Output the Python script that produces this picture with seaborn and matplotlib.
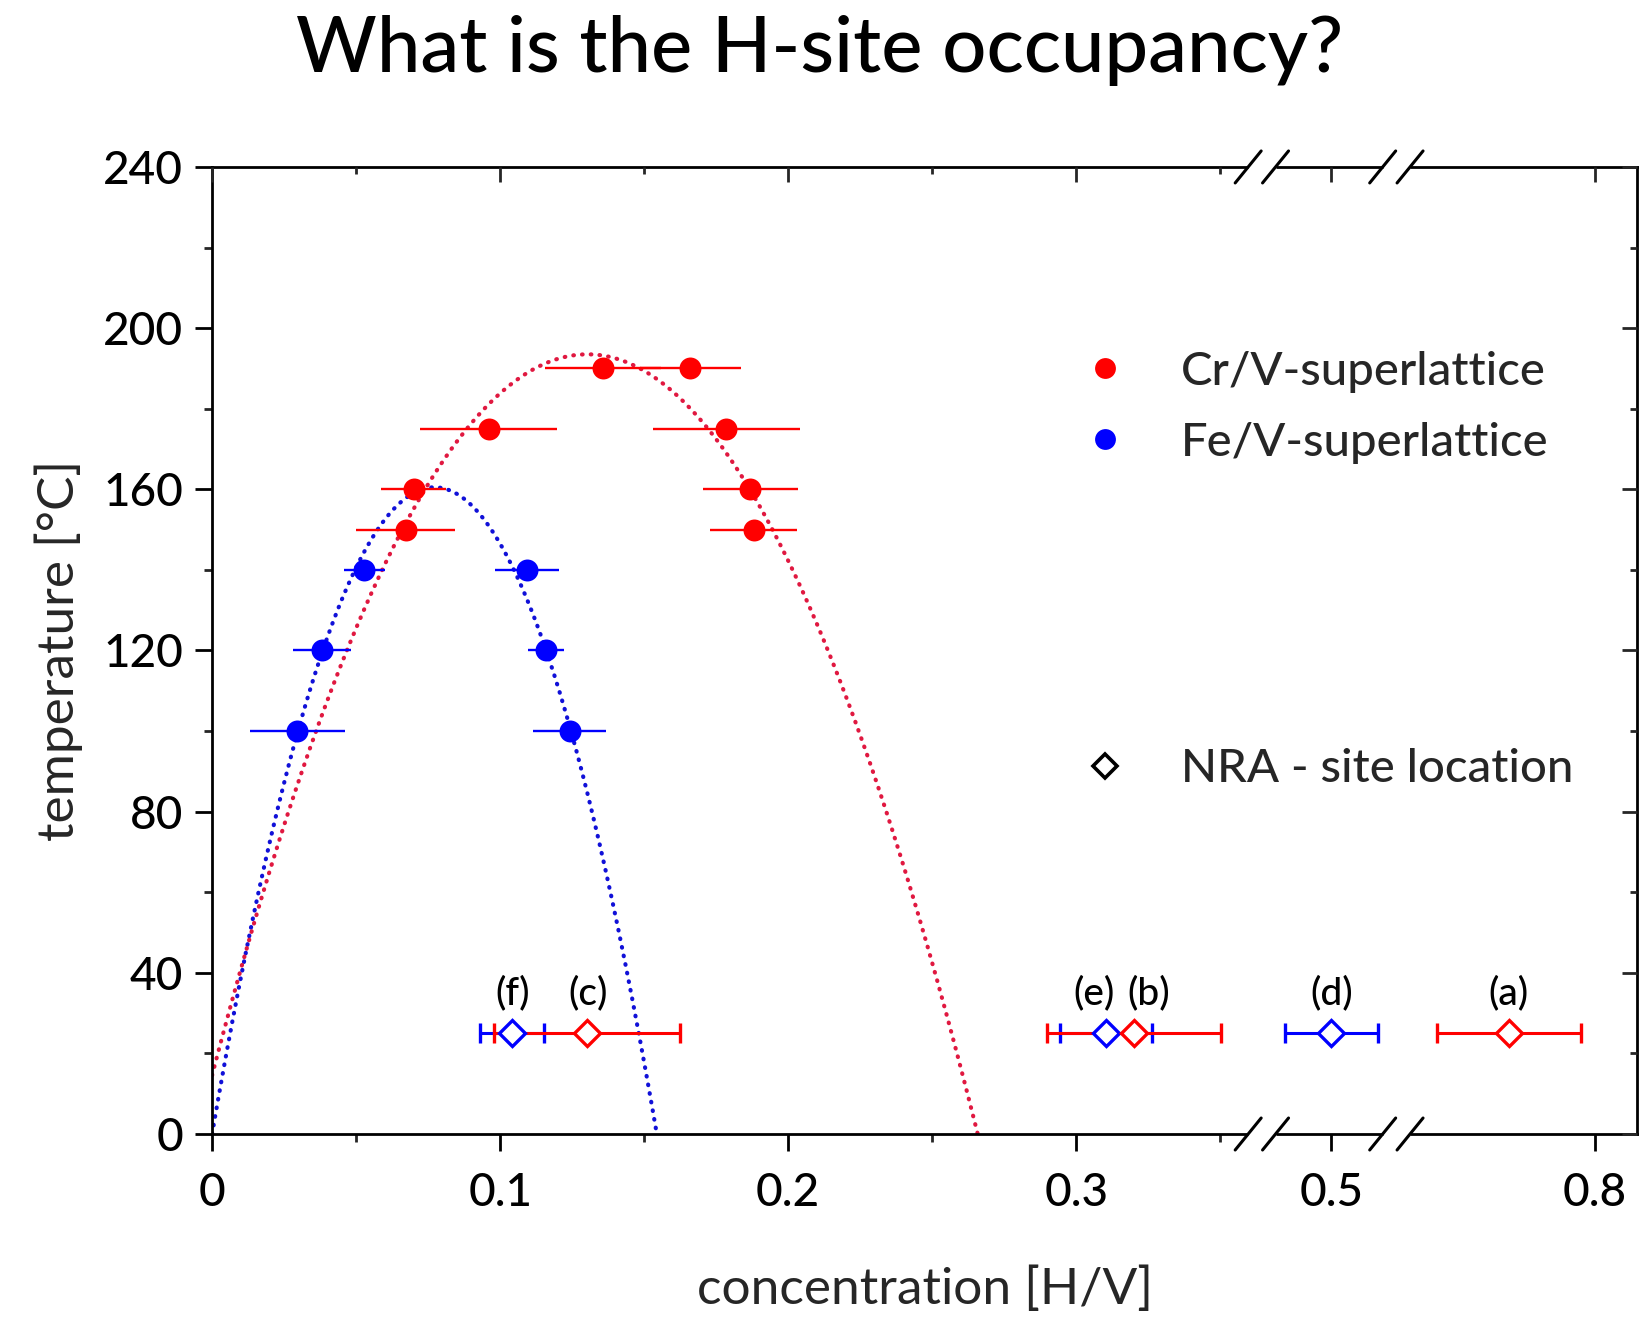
import numpy as np
import matplotlib
matplotlib.use("Agg")
import matplotlib.pyplot as plt
import seaborn as sns
from matplotlib.lines import Line2D

# ---- data -------------------------------------------------------------
# Cr/V superlattice: solvus points (temperature in degC, H/V concentration, x-error)
crv_temp = [190, 190, 175, 175, 160, 160, 150, 150]
crv_conc = [0.1357, 0.1660, 0.0960, 0.1785, 0.0700, 0.1868, 0.0672, 0.1880]
crv_err = [0.0200, 0.0175, 0.0238, 0.0255, 0.0113, 0.0165, 0.0173, 0.0152]

# Fe/V superlattice
fev_temp = [140, 140, 120, 120, 100, 100]
fev_conc = [0.0529, 0.1093, 0.0381, 0.1159, 0.0296, 0.1241]
fev_err = [0.0072, 0.0112, 0.0100, 0.0062, 0.0165, 0.0128]

# NRA site-location measurements at room temperature
nra_labels = ["(f)", "(c)", "(e)", "(b)", "(d)", "(a)"]
nra_system = ["Fe/V", "Cr/V", "Fe/V", "Cr/V", "Fe/V", "Cr/V"]
nra_conc = [0.1040, 0.1300, 0.3103, 0.3200, 0.500, 0.770]
nra_err = [0.0111, 0.0323, 0.0160, 0.0302, 0.016, 0.025]
nra_temp = 25
nra_label_conc = [0.1042, 0.1304, 0.3063, 0.3250, 0.500, 0.770]
nra_label_temp = 35

# parabolic solvus fits: critical temperature, critical concentration, half-width
crv_fit = dict(tc=193.5, xc=0.1303, w=0.1355)
fev_fit = dict(tc=160.5, xc=0.0772, w=0.0772)

# broken concentration axis: visible segments and the gap between them
x_segments = [(0.0, 0.3597), (0.4806, 0.5178), (0.7358, 0.8146)]
seg_gap = 0.0095

x_major = [0, 0.1, 0.2, 0.3, 0.5, 0.8]
x_major_labels = ["0", "0.1", "0.2", "0.3", "0.5", "0.8"]
x_minor = [0.05, 0.15, 0.25, 0.35]
y_major = [0, 40, 80, 120, 160, 200, 240]
y_minor = [20, 60, 100, 140, 180, 220]

colors = {"Cr/V": "#ff0000", "Fe/V": "#0000ff"}
fit_colors = {"Cr/V": "#e01840", "Fe/V": "#1010d8"}

# ---- style ------------------------------------------------------------
sns.set_theme(style="ticks")
plt.rcParams["font.family"] = ["Lato", "DejaVu Sans"]
plt.rcParams["font.weight"] = "medium"
plt.rcParams["axes.linewidth"] = 2.0

# ---- broken-axis scale -----------------------------------------------
xk, uk = [], []
u = 0.0
for i, (a, b) in enumerate(x_segments):
    if i:
        u += seg_gap
    xk += [a, b]
    uk += [u, u + (b - a)]
    u += b - a
xk = np.array(xk)
uk = np.array(uk)


def fwd(x):
    x = np.asarray(x, dtype=float)
    out = np.interp(x, xk, uk)
    out = np.where(x < xk[0], uk[0] + (x - xk[0]), out)
    out = np.where(x > xk[-1], uk[-1] + (x - xk[-1]), out)
    return out


def inv(v):
    v = np.asarray(v, dtype=float)
    out = np.interp(v, uk, xk)
    out = np.where(v < uk[0], xk[0] + (v - uk[0]), out)
    out = np.where(v > uk[-1], xk[-1] + (v - uk[-1]), out)
    return out


fig = plt.figure(figsize=(16.39, 13.24), dpi=100)
ax = fig.add_axes([0.1294, 0.1435, 0.8694, 0.7304])
ax.set_xscale("function", functions=(fwd, inv))
xlim = (x_segments[0][0], x_segments[-1][1])
ax.set_xlim(*xlim)
ax.set_ylim(0, 240)

# ---- fits ---------------------------------------------------------------
for name, fit in (("Fe/V", fev_fit), ("Cr/V", crv_fit)):
    xs = np.linspace(0, fit["xc"] + fit["w"], 400)
    ts = fit["tc"] * (1 - ((xs - fit["xc"]) / fit["w"]) ** 2)
    ax.plot(xs, ts, color=fit_colors[name], lw=3.0,
            linestyle=(0, (0.15, 1.95)), dash_capstyle="round", zorder=2)

# ---- solvus points --------------------------------------------------------
for name, xs, ts, es in (("Fe/V", fev_conc, fev_temp, fev_err),
                         ("Cr/V", crv_conc, crv_temp, crv_err)):
    ax.errorbar(xs, ts, xerr=es, fmt="none", ecolor=colors[name],
                elinewidth=1.7, capsize=0, zorder=3)
    sns.scatterplot(x=xs, y=ts, color=colors[name], s=250, linewidth=0,
                    ax=ax, zorder=4, legend=False)

# ---- NRA points -----------------------------------------------------------
for system in ("Fe/V", "Cr/V"):
    idx = [i for i, s in enumerate(nra_system) if s == system]
    ax.errorbar([nra_conc[i] for i in idx], [nra_temp] * len(idx),
                xerr=[nra_err[i] for i in idx], fmt="D", ms=13.5,
                mfc="white", mec=colors[system], mew=2.4,
                ecolor=colors[system], elinewidth=2.2, capsize=7,
                capthick=2.2, zorder=5)
for lab, lx in zip(nra_labels, nra_label_conc):
    ax.text(lx, nra_label_temp, lab, ha="center", va="center",
            fontsize=28, color="black", zorder=6)

# ---- legend -----------------------------------------------------------
h_cr = Line2D([], [], ls="none", marker="o", ms=15, color=colors["Cr/V"], mew=0)
h_fe = Line2D([], [], ls="none", marker="o", ms=15, color=colors["Fe/V"], mew=0)
h_nra = Line2D([], [], ls="none", marker="D", ms=12, mfc="white", mec="black", mew=2.6)
leg_kw = dict(loc="center left", frameon=False, handlelength=1.0,
              handletextpad=1.11, borderpad=0, borderaxespad=0, fontsize=34)
leg1 = ax.legend([h_cr, h_fe], ["Cr/V-superlattice", "Fe/V-superlattice"],
                 bbox_to_anchor=(0.6101, 0.7516), labelspacing=0.61, **leg_kw)
ax.add_artist(leg1)
ax.legend([h_nra], ["NRA - site location"], bbox_to_anchor=(0.6101, 0.3774), **leg_kw)

# ---- axes, ticks ---------------------------------------------------------
ax.set_xticks(x_major)
ax.set_xticklabels(x_major_labels)
ax.set_xticks(x_minor, minor=True)
ax.set_yticks(y_major)
ax.set_yticks(y_minor, minor=True)
ax.tick_params(axis="both", which="major", direction="out", length=12, width=2,
               labelsize=33, colors="black")
ax.tick_params(axis="both", which="minor", direction="out", length=5.5, width=2)
ax.tick_params(axis="x", which="major", pad=15)
ax.tick_params(axis="y", which="major", pad=9)
ax.set_xlabel("concentration [H/V]", fontsize=37, labelpad=38)
ax.set_ylabel("temperature [°C]", fontsize=37, labelpad=14)
for sp in ax.spines.values():
    sp.set_color("black")
    sp.set_linewidth(2.0)

# mirrored ticks on top and right, pointing into the same direction
ax_top = ax.twiny()
ax_top.set_xscale("function", functions=(fwd, inv))
ax_top.set_xlim(*xlim)
ax_top.set_xticks(x_major)
ax_top.set_xticks(x_minor, minor=True)
ax_top.tick_params(axis="x", which="both", top=True, bottom=False, labeltop=False,
                   direction="in", width=2)
ax_top.tick_params(axis="x", which="major", length=11)
ax_top.tick_params(axis="x", which="minor", length=5)

ax_right = ax.twinx()
ax_right.set_ylim(0, 240)
ax_right.set_yticks(y_major)
ax_right.set_yticks(y_minor, minor=True)
ax_right.tick_params(axis="y", which="both", right=True, left=False, labelright=False,
                     direction="in", width=2)
ax_right.tick_params(axis="y", which="major", length=11)
ax_right.tick_params(axis="y", which="minor", length=5)
for a in (ax_top, ax_right):
    for sp in a.spines.values():
        sp.set_visible(False)
    a.grid(False)
ax.grid(False)

# break marks on bottom and top spines
U = uk[-1] - uk[0]
dx, dy = 13 / 1425, 16 / 967
for i in range(len(x_segments) - 1):
    f0 = (uk[2 * i + 1] - uk[0]) / U
    f1 = (uk[2 * i + 2] - uk[0]) / U
    for yy in (0.0, 1.0):
        ax_right.plot([f0, f1], [yy, yy], transform=ax_right.transAxes, color="white",
                      lw=5, solid_capstyle="butt", clip_on=False, zorder=10)
        for f in (f0, f1):
            ax_right.plot([f - dx, f + dx], [yy - dy, yy + dy], transform=ax_right.transAxes,
                          color="black", lw=2.2, clip_on=False, zorder=11)

fig.text(0.5, 0.962, "What is the H-site occupancy?", ha="center", va="center",
         fontsize=56, color="black")

fig.savefig("out.png", dpi=100, facecolor="white")
